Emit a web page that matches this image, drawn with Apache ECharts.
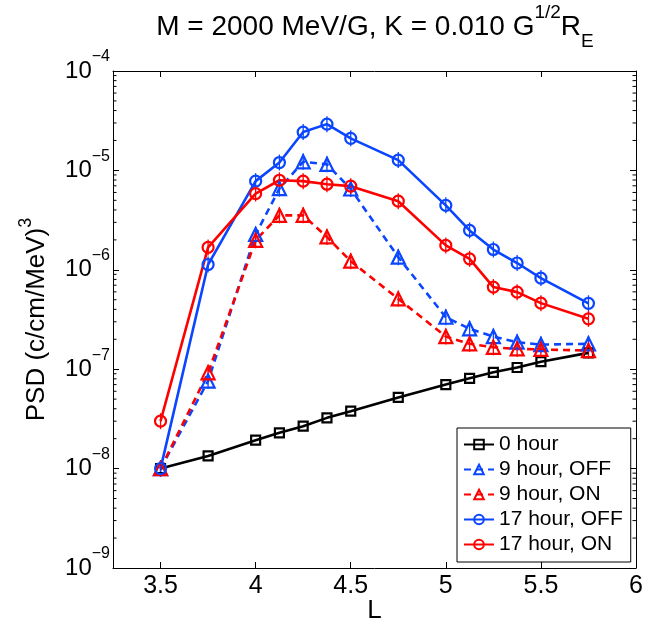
<!DOCTYPE html>
<html>
<head>
<meta charset="utf-8">
<script src="https://cdn.jsdelivr.net/npm/echarts@6/dist/echarts.min.js"></script>
<style>html,body{margin:0;padding:0;background:#fff;}#c{width:647px;height:621px;}</style>
</head>
<body>
<div id="c"></div>
<script>
// ---- data ----
const L = [3.5, 3.75, 4, 4.125, 4.25, 4.375, 4.5, 4.75, 5, 5.125, 5.25, 5.375, 5.5, 5.75];
const psd0h    = [1.0e-8, 1.34e-8, 1.93e-8, 2.29e-8, 2.67e-8, 3.24e-8, 3.78e-8, 5.2e-8, 7.0e-8, 8.1e-8, 9.3e-8, 1.04e-7, 1.19e-7, 1.46e-7];
const psd9off  = [1.0e-8, 7.6e-8, 2.27e-6, 6.56e-6, 1.22e-5, 1.15e-5, 6.5e-6, 1.34e-6, 3.33e-7, 2.55e-7, 2.13e-7, 1.87e-7, 1.77e-7, 1.8e-7];
const psd9on   = [1.0e-8, 9.2e-8, 1.98e-6, 3.53e-6, 3.53e-6, 2.14e-6, 1.22e-6, 5.1e-7, 2.13e-7, 1.8e-7, 1.66e-7, 1.6e-7, 1.58e-7, 1.54e-7];
const psd17off = [1.0e-8, 1.13e-6, 7.8e-6, 1.2e-5, 2.43e-5, 2.92e-5, 2.1e-5, 1.27e-5, 4.45e-6, 2.49e-6, 1.6e-6, 1.17e-6, 8.26e-7, 4.6e-7];
const psd17on  = [3.0e-8, 1.68e-6, 5.85e-6, 7.96e-6, 7.8e-6, 7.26e-6, 6.94e-6, 4.9e-6, 1.76e-6, 1.29e-6, 6.7e-7, 5.96e-7, 4.62e-7, 3.21e-7];
const seriesNames = ['0 hour', '9 hour, OFF', '9 hour, ON', '17 hour, OFF', '17 hour, ON'];
const xTicks = [3.5, 4, 4.5, 5, 5.5, 6];
const xMin = 3.25, xMax = 6;
const yMin = 1e-9, yMax = 1e-4;

const minorVals = [];
for (let d = -9; d <= -5; d++) for (let m = 2; m <= 9; m++) minorVals.push(m * Math.pow(10, d));

const FONT = 'Liberation Sans, Arial, Helvetica, sans-serif';
const BLUE = '#0a45ff', RED = '#ff0000', BLACK = '#000000';

function pairs(arr) { return L.map((x, i) => [x, arr[i]]); }

function lineSeries(name, arr, color, symbol, size, dashed) {
  return {
    name: name, type: 'line', data: pairs(arr),
    symbol: symbol, symbolSize: size,
    itemStyle: { color: 'rgba(255,255,255,0)', borderColor: color, borderWidth: 2.2 },
    lineStyle: { color: color, width: 2.6, type: dashed ? [7, 5] : 'solid' },
    emphasis: { disabled: true }
  };
}

function errSeries(arr, color) {
  return {
    type: 'custom', name: 'err', data: pairs(arr), silent: true, z: 3,
    renderItem: function (params, api) {
      const p = api.coord([api.value(0), api.value(1)]);
      return { type: 'line', shape: { x1: p[0], y1: p[1] - 8, x2: p[0], y2: p[1] + 8 },
        style: { stroke: color, lineWidth: 1.3 } };
    }
  };
}

const chart = echarts.init(document.getElementById('c'), null, { renderer: 'canvas' });
chart.setOption({
  animation: false,
  backgroundColor: '#fff',
  title: {
    text: '{m|M = 2000 MeV/G, K = 0.010 G}{sup|1/2}{m|R}{sub|E}',
    left: 375, top: 3, padding: 0, textAlign: 'center',
    textStyle: {
      fontFamily: FONT, fontWeight: 'normal', color: '#000', fontSize: 28, lineHeight: 48,
      rich: {
        m: { fontFamily: FONT, fontSize: 28, lineHeight: 48, verticalAlign: 'middle', color: '#000' },
        sup: { fontFamily: FONT, fontSize: 19, lineHeight: 19, verticalAlign: 'top', color: '#000' },
        sub: { fontFamily: FONT, fontSize: 19, lineHeight: 19, verticalAlign: 'bottom', color: '#000' }
      }
    }
  },
  grid: { left: 113, right: 11, top: 71, bottom: 53, containLabel: false, outerBoundsMode: 'none' },
  legend: {
    orient: 'vertical', left: 457, top: 428,
    data: seriesNames,
    backgroundColor: '#fff', borderColor: '#000', borderWidth: 1,
    padding: [6, 8, 7, 6], itemGap: 4, itemWidth: 30, itemHeight: 12,
    textStyle: { fontFamily: FONT, fontSize: 21, lineHeight: 21, color: '#000' },
    selectedMode: false
  },
  xAxis: [{
    type: 'value', min: xMin, max: xMax, position: 'bottom',
    name: 'L', nameLocation: 'middle', nameGap: 30, nameMoveOverlap: false,
    nameTextStyle: { fontFamily: FONT, fontSize: 26, color: '#000' },
    axisLine: { show: true, onZero: false, lineStyle: { color: '#000', width: 1 } },
    axisTick: { show: true, inside: true, length: 6, customValues: xTicks, lineStyle: { color: '#000' } },
    axisLabel: { show: true, customValues: xTicks, margin: 6, fontFamily: FONT, fontSize: 25, color: '#000' },
    splitLine: { show: false }
  }, {
    type: 'value', min: xMin, max: xMax, position: 'top',
    axisLine: { show: true, onZero: false, lineStyle: { color: '#000', width: 1 } },
    axisTick: { show: true, inside: true, length: 6, customValues: xTicks, lineStyle: { color: '#000' } },
    axisLabel: { show: false, customValues: xTicks },
    splitLine: { show: false }
  }],
  yAxis: [{
    type: 'log', logBase: 10, min: yMin, max: yMax, position: 'left',
    name: '{m|PSD (c/cm/MeV)}{sup|3}', nameLocation: 'middle', nameRotate: 90, nameGap: 56, nameMoveOverlap: false,
    nameTextStyle: {
      fontFamily: FONT, fontSize: 26, color: '#000', lineHeight: 40,
      rich: {
        m: { fontFamily: FONT, fontSize: 26, lineHeight: 40, verticalAlign: 'middle', color: '#000' },
        sup: { fontFamily: FONT, fontSize: 18, lineHeight: 18, verticalAlign: 'top', color: '#000' }
      }
    },
    axisLine: { show: true, onZero: false, lineStyle: { color: '#000', width: 1 } },
    axisTick: { show: true, inside: true, length: 6, lineStyle: { color: '#000' } },
    axisLabel: {
      margin: 3, color: '#000', lineHeight: 44,
      formatter: function (v) { return '{b|10}{s|\u2212' + Math.round(-Math.log10(v)) + '}'; },
      rich: {
        b: { fontFamily: FONT, fontSize: 24, lineHeight: 44, verticalAlign: 'middle', color: '#000' },
        s: { fontFamily: FONT, fontSize: 16, lineHeight: 16, verticalAlign: 'top', color: '#000' }
      }
    },
    splitLine: { show: false }
  }, {
    type: 'log', logBase: 10, min: yMin, max: yMax, position: 'right',
    axisLine: { show: true, onZero: false, lineStyle: { color: '#000', width: 1 } },
    axisTick: { show: true, inside: true, length: 6, lineStyle: { color: '#000' } },
    axisLabel: { show: false },
    splitLine: { show: false }
  }],
  series: [
    {
      type: 'custom', name: 'minor', data: minorVals.map(v => [v]), silent: true, clip: false,
      renderItem: function (params, api) {
        const v = api.value(0);
        const a = api.coord([xMin, v]);
        const b = api.coord([xMax, v]);
        return { type: 'group', children: [
          { type: 'line', shape: { x1: a[0], y1: a[1], x2: a[0] + 3.5, y2: a[1] }, style: { stroke: '#000', lineWidth: 1 } },
          { type: 'line', shape: { x1: b[0], y1: b[1], x2: b[0] - 3.5, y2: b[1] }, style: { stroke: '#000', lineWidth: 1 } }
        ] };
      }
    },
    lineSeries(seriesNames[0], psd0h, BLACK, 'rect', 9, false),
    errSeries(psd9off, BLUE),
    lineSeries(seriesNames[1], psd9off, BLUE, 'triangle', 13, true),
    errSeries(psd9on, RED),
    lineSeries(seriesNames[2], psd9on, RED, 'triangle', 13, true),
    errSeries(psd17off, BLUE),
    lineSeries(seriesNames[3], psd17off, BLUE, 'circle', 11, false),
    errSeries(psd17on, RED),
    lineSeries(seriesNames[4], psd17on, RED, 'circle', 11, false)
  ]
});
</script>
</body>
</html>
